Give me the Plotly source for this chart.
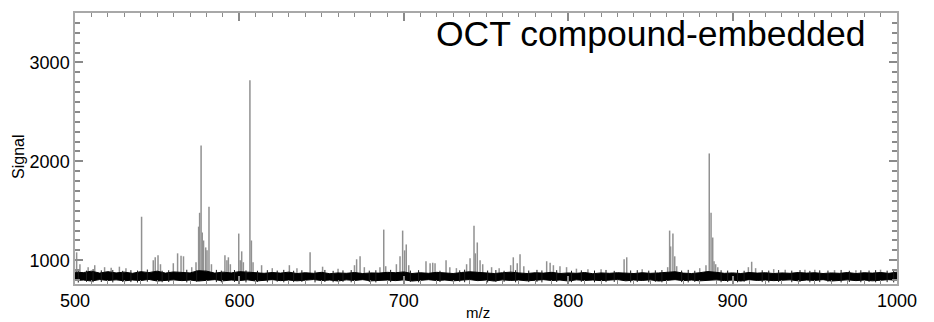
import plotly.graph_objects as go

# ---- data ----
# noise band envelope, every 5 m/z from 500 to 1000
band_mz = list(range(500, 1001, 5))
band_hi = [
    880, 875, 890, 870, 885, 872, 880, 868, 885, 875,
    890, 870, 882, 878, 872, 895, 890, 870, 880, 872,
    885, 880, 872, 868, 876, 870, 880, 866, 874, 868,
    878, 864, 872, 868, 876, 866, 872, 870, 878, 874,
    882, 866, 874, 868, 878, 870, 866, 876, 884, 878,
    870, 866, 874, 880, 872, 866, 874, 870, 878, 866,
    872, 868, 876, 864, 872, 868, 874, 870, 866, 874,
    868, 872, 880, 884, 870, 866, 874, 886, 878, 868,
    872, 866, 876, 870, 874, 866, 872, 868, 876, 870,
    874, 866, 872, 868, 876, 866, 874, 870, 876, 868,
    880,
]
band_lo = [
    795, 800, 790, 805, 796, 802, 792, 800, 795, 806,
    790, 798, 802, 794, 800, 790, 796, 804, 792, 800,
    795, 802, 790, 798, 804, 794, 800, 792, 798, 805,
    795, 800, 790, 802, 796, 804, 792, 798, 800, 794,
    802, 790, 798, 804, 795, 800, 792, 798, 805, 794,
    800, 790, 802, 796, 800, 792, 798, 804, 795, 800,
    790, 802, 796, 800, 794, 798, 805, 792, 800, 796,
    802, 790, 798, 804, 794, 800, 792, 798, 802, 795,
    800, 790, 804, 796, 800, 794, 798, 802, 792, 800,
    796, 804, 790, 798, 802, 794, 800, 792, 798, 804,
    796,
]

# short black noise spikes poking out of the band (m/z, top, bottom)
spike_mz = [
    502, 507, 511, 516, 523, 529, 534, 538, 544, 553, 557, 568, 574, 586,
    589, 597, 604, 611, 617, 623, 627, 633, 638, 646, 652, 657, 663, 668,
    679, 683, 692, 704, 709, 722, 734, 737, 751, 756, 761, 768, 776, 781,
    784, 793, 802, 808, 816, 823, 828, 838, 842, 849, 853, 857, 869, 873,
    877, 893, 897, 903, 907, 918, 922, 928, 936, 941, 947, 953, 958, 966,
    971, 978, 983, 987, 994, 998,
]
spike_top = [
    905, 895, 910, 898, 902, 893, 900, 896, 906, 894, 899, 904, 897, 903,
    895, 901, 898, 894, 900, 896, 903, 894, 899, 896, 902, 893, 898, 901,
    895, 899, 903, 896, 900, 894, 898, 905, 896, 901, 894, 899, 896, 903,
    897, 900, 894, 898, 896, 902, 893, 897, 900, 895, 898, 901, 896, 903,
    894, 899, 896, 902, 894, 899, 896, 901, 895, 900, 893, 898, 896, 902,
    894, 899, 896, 900, 895, 905,
]
spike_bottom = [
    775, 782, 778, 780, 776, 781, 779, 775, 783, 778, 780, 776, 782, 779,
    777, 781, 776, 780, 778, 783, 777, 779, 781, 776, 780, 778, 782, 777,
    780, 776, 779, 781, 777, 780, 783, 778, 776, 780, 782, 777, 779, 781,
    776, 780, 778, 782, 777, 779, 781, 776, 780, 778, 782, 777, 779, 776,
    781, 778, 780, 777, 782, 779, 776, 780, 778, 781, 777, 779, 782, 776,
    780, 778, 781, 777, 779, 776,
]

# peaks (stick spectrum): m/z and signal
peak_mz = [
    501.0, 503.0, 508.0, 512.0, 518.0, 522.0, 527.0, 531.0,
    540.5, 547.6, 548.8, 550.5, 552.0,
    559.8, 562.4, 564.5, 566.0, 571.0, 573.6,
    575.2, 575.8, 576.7, 577.4, 578.2, 579.5, 580.3, 581.5, 583.0,
    591.2, 592.4, 593.3, 594.5,
    599.6, 600.5, 601.4, 602.4,
    606.4, 607.3, 608.3,
    613.5, 620.0, 630.4, 635.0,
    643.0, 650.6, 660.0,
    670.0, 671.3, 673.4, 676.0,
    685.5, 687.8, 689.0,
    695.5, 697.7, 699.3, 700.5, 701.5, 703.0,
    713.5, 716.0, 717.6, 719.0, 725.7, 728.0, 732.0,
    738.2, 740.3, 742.7, 743.5, 744.7, 746.4, 748.0, 753.4, 758.0,
    765.0, 766.6, 769.0, 770.7, 773.0,
    786.9, 789.0, 791.0, 795.0, 799.0, 805.0, 812.0, 820.0,
    834.0, 835.6, 845.0,
    860.5, 861.7, 862.3, 863.7, 864.8, 866.0,
    880.0, 883.8, 885.8, 886.9, 887.9, 888.7, 889.7, 891.0,
    909.6, 911.6, 914.0,
    925.0, 932.0, 944.0, 950.0, 962.0, 975.0, 990.0,
]
peak_int = [
    1080, 960, 930, 950, 930, 925, 935, 920,
    1440, 1000, 1030, 1050, 960,
    970, 1070, 1045, 1040, 930, 980,
    1340, 1480, 2160, 1280, 1200, 1130, 1100, 1540, 960,
    1050, 1000, 1030, 960,
    1270, 1000, 1090, 980,
    2820, 1200, 980,
    950, 920, 950, 920,
    1080, 935, 915,
    950, 1010, 1040, 930,
    930, 1310, 940,
    960, 1040, 1300, 1100, 1160, 950,
    990, 970, 975, 970, 1000, 930, 920,
    960, 1020, 1350, 1070, 1180, 1000, 960, 930, 920,
    950, 1030, 970, 1060, 940,
    990, 975, 950, 940, 930, 915, 910, 910,
    1010, 1030, 910,
    930, 1300, 1140, 1270, 1040, 940,
    920, 950, 2080, 1480, 1230, 990, 960, 930,
    930, 985, 920,
    910, 905, 905, 905, 900, 900, 905,
]
stick_base = 830

title_text = "OCT compound-embedded"
x_ticks = [500, 600, 700, 800, 900, 1000]
y_ticks = [1000, 2000, 3000]

# ---- build ----
sx, sy = [], []
for m, h in zip(peak_mz, peak_int):
    sx += [m, m, None]
    sy += [stick_base, h, None]

nx, ny = [], []
for m, t, b in zip(spike_mz, spike_top, spike_bottom):
    nx += [m, m, None]
    ny += [b, t, None]

fig = go.Figure()
fig.add_trace(go.Scatter(x=sx, y=sy, mode="lines",
                         line=dict(color="#919191", width=1.5),
                         hoverinfo="skip", showlegend=False))
fig.add_trace(go.Scatter(x=band_mz, y=band_lo, mode="lines",
                         line=dict(color="#000000", width=1),
                         showlegend=False, hoverinfo="skip"))
fig.add_trace(go.Scatter(x=band_mz, y=band_hi, mode="lines",
                         line=dict(color="#000000", width=1),
                         fill="tonexty", fillcolor="#000000",
                         showlegend=False, hoverinfo="skip"))
fig.add_trace(go.Scatter(x=nx, y=ny, mode="lines",
                         line=dict(color="#1a1a1a", width=1),
                         hoverinfo="skip", showlegend=False))

font_family = "Liberation Sans, Arial, sans-serif"
axis_common = dict(
    showgrid=False, zeroline=False,
    showline=True, linecolor="#a8a8a8", linewidth=1.5, mirror="ticks",
    ticks="inside", ticklen=8, tickwidth=1.5, tickcolor="#8a8a8a",
    tickfont=dict(family=font_family, size=18, color="#000000"),
)
fig.update_layout(
    width=934, height=322,
    margin=dict(l=75, r=37, t=11, b=38),
    paper_bgcolor="white", plot_bgcolor="white",
    font=dict(family=font_family, color="#000000"),
    xaxis=dict(range=[500, 1000], tickvals=x_ticks,
               minor=dict(dtick=10, ticks="inside", ticklen=4,
                          tickcolor="#8a8a8a", tickwidth=1),
               **axis_common),
    yaxis=dict(range=[760, 3500], tickvals=y_ticks,
               minor=dict(dtick=100, ticks="inside", ticklen=5,
                          tickcolor="#8a8a8a", tickwidth=1.5),
               **axis_common),
    annotations=[
        dict(text=title_text, xref="paper", yref="paper", x=0.9647, y=0.922,
             xanchor="right", yanchor="middle", showarrow=False,
             font=dict(family=font_family, size=35.5, color="#000000")),
        dict(text="m/z", xref="paper", yref="paper", x=0.49, y=-0.105,
             xanchor="center", yanchor="middle", showarrow=False,
             font=dict(family=font_family, size=15, color="#000000")),
        dict(text="Signal", xref="paper", yref="paper", x=-0.069, y=0.47,
             xanchor="center", yanchor="middle", textangle=-90, showarrow=False,
             font=dict(family=font_family, size=16, color="#000000")),
    ],
)

fig.write_html("out.html")
